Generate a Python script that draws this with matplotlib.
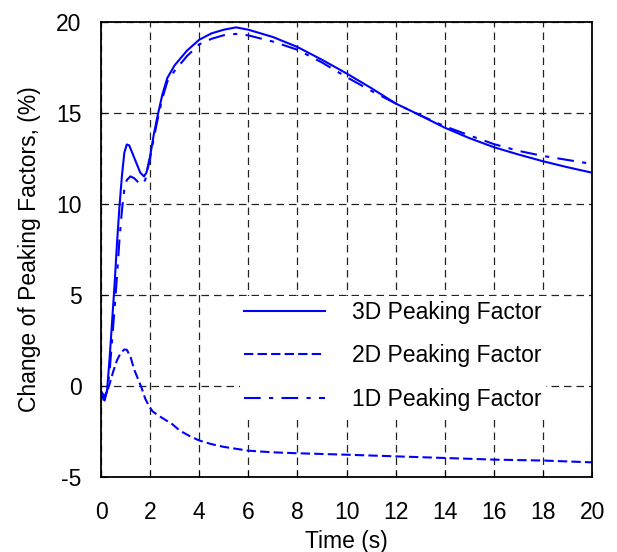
import matplotlib
matplotlib.use("Agg")
import matplotlib.pyplot as plt

plt.rcParams['font.family'] = ['Liberation Sans', 'DejaVu Sans']
plt.rcParams['axes.unicode_minus'] = False

# 3D peaking factor change (%)
t_3d = [0, 0.1, 0.15, 0.25, 0.35, 0.45, 0.55, 0.65, 0.75, 0.85, 0.95, 1.05, 1.15,
        1.3, 1.45, 1.6, 1.75, 1.85, 2.0, 2.15, 2.3, 2.5, 2.7, 3.0, 3.5, 4.0, 4.5,
        5.0, 5.5, 6.0, 7.0, 8.0, 9.0, 10, 11, 12, 13, 14, 15, 16, 17, 18, 19, 20]
y_3d = [-0.3, -0.75, -0.8, -0.2, 1.5, 3.5, 5.5, 7.8, 9.8, 11.5, 12.8, 13.25, 13.2,
        12.7, 12.2, 11.7, 11.5, 11.7, 12.6, 13.8, 14.8, 16.0, 16.9, 17.6, 18.4, 19.0, 19.35,
        19.55, 19.68, 19.55, 19.15, 18.6, 17.9, 17.15, 16.35, 15.5, 14.85, 14.17, 13.6,
        13.1, 12.7, 12.33, 12.0, 11.7]

# 2D peaking factor change (%)
t_2d = [0, 0.1, 0.15, 0.25, 0.35, 0.5, 0.65, 0.8, 0.95, 1.05, 1.2, 1.35, 1.5, 1.65,
        1.8, 1.95, 2.1, 2.3, 2.6, 2.9, 3.2, 3.6, 4.0, 4.5, 5.0, 6.0, 7.0, 8.0, 10,
        12, 14, 16, 18, 20]
y_2d = [-0.3, -0.5, -0.55, -0.3, 0.1, 0.8, 1.4, 1.8, 2.0, 1.98, 1.6, 0.9, 0.4, -0.1,
        -0.7, -1.1, -1.4, -1.6, -1.85, -2.1, -2.45, -2.75, -3.0, -3.2, -3.35, -3.56,
        -3.65, -3.7, -3.78, -3.87, -3.96, -4.05, -4.1, -4.2]

# 1D peaking factor change (%)
t_1d = [0, 0.1, 0.15, 0.25, 0.35, 0.45, 0.55, 0.65, 0.75, 0.85, 0.95, 1.05, 1.2,
        1.35, 1.5, 1.65, 1.8, 1.9, 2.0, 2.15, 2.3, 2.5, 2.7, 3.0, 3.5, 4.0, 4.5, 5.0,
        5.5, 6.0, 7.0, 8.0, 9.0, 10, 11, 12, 13, 14, 15, 16, 17, 18, 19, 20]
y_1d = [-0.3, -0.6, -0.65, -0.3, 0.8, 2.5, 4.2, 6.0, 8.0, 9.6, 10.8, 11.3, 11.5,
        11.4, 11.2, 11.05, 11.3, 11.9, 12.5, 13.6, 14.6, 15.8, 16.7, 17.3, 18.1, 18.75,
        19.05, 19.25, 19.32, 19.24, 18.9, 18.45, 17.75, 16.95, 16.2, 15.5, 14.85, 14.25,
        13.75, 13.27, 12.9, 12.62, 12.4, 12.18]

fig = plt.figure(figsize=(6.17, 5.52), dpi=100)
ax = fig.add_axes([0.1637, 0.136, 0.796, 0.825])

blue = '#0000ff'
ax.plot(t_3d, y_3d, color=blue, lw=1.5, ls='-', label='3D Peaking Factor')
ax.plot(t_2d, y_2d, color=blue, lw=1.5, ls=(0, (4.5, 2)), label='2D Peaking Factor')
ax.plot(t_1d, y_1d, color=blue, lw=1.5, ls=(0, (8, 4, 2, 4)), label='1D Peaking Factor')

ax.set_xlim(0, 20)
ax.set_ylim(-5, 20)
ax.set_xticks(range(0, 21, 2))
ax.set_yticks(range(-5, 21, 5))
ax.grid(True, color='#222222', ls=(0, (6, 4)), lw=0.9)
ax.tick_params(direction='in', length=4, labelsize=16.5)
ax.tick_params(axis='x', pad=17)
ax.tick_params(axis='y', pad=14)
for s in ax.spines.values():
    s.set_linewidth(1.3)

ax.set_xlabel('Time (s)', fontsize=16.5, labelpad=5)
ax.set_ylabel('Change of Peaking Factors, (%)', fontsize=16.5, labelpad=11)

leg = ax.legend(loc='center', bbox_to_anchor=(0.594, 0.266), fontsize=16.5,
                handlelength=3.5, handletextpad=1.18, labelspacing=0.9,
                frameon=True, fancybox=False, borderpad=0.2, borderaxespad=0)
leg.get_frame().set_edgecolor('none')
leg.get_frame().set_facecolor('white')
leg.get_frame().set_alpha(1)

fig.savefig('out.png', dpi=100)
